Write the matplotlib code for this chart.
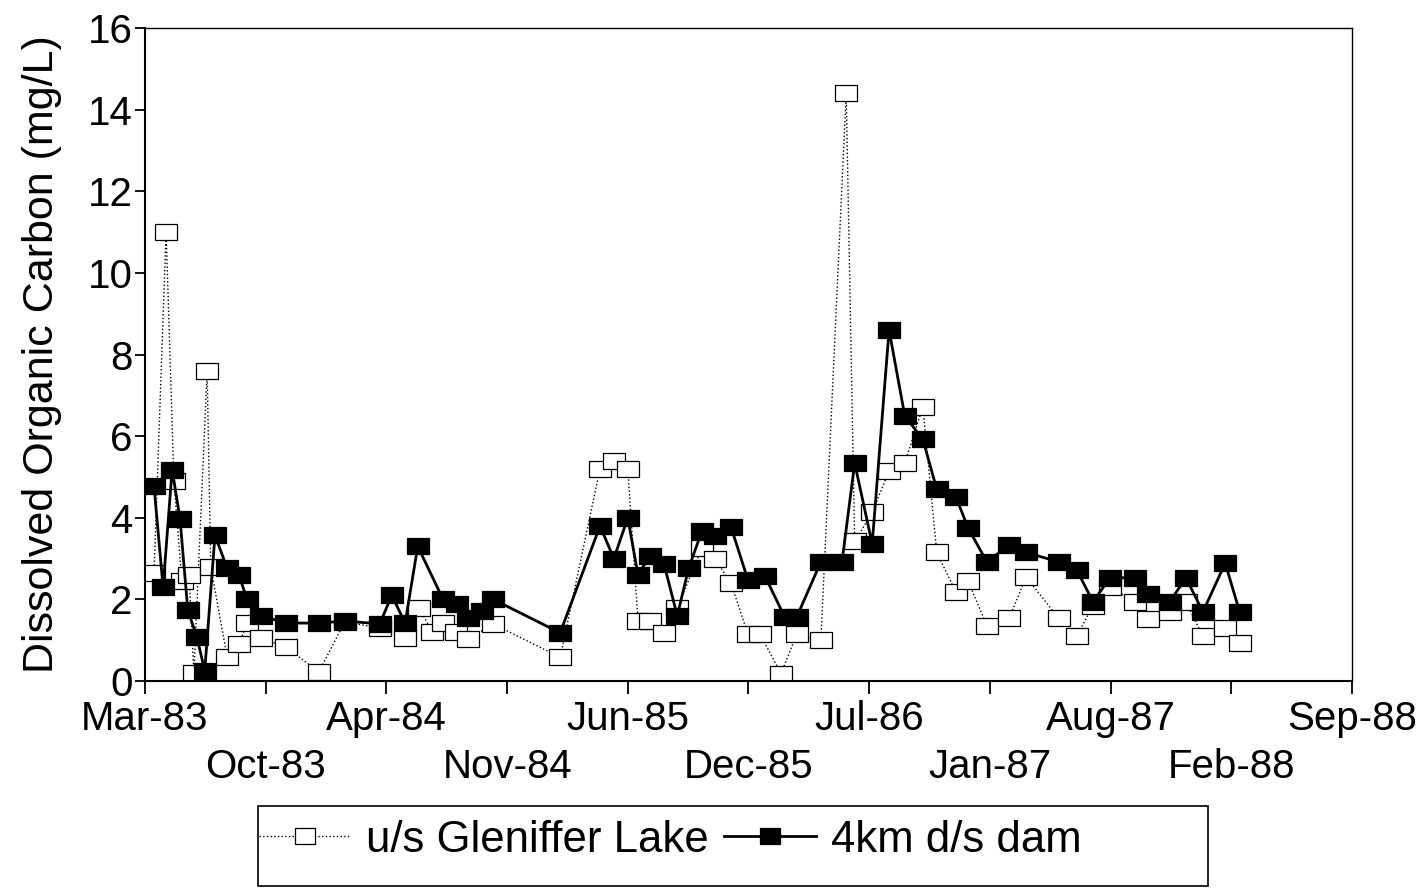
import numpy as np
import pandas as pd
import matplotlib
matplotlib.use("Agg")
import matplotlib.pyplot as plt
from matplotlib.patches import Rectangle

plt.rcParams['font.family'] = ['Liberation Sans', 'DejaVu Sans']

# Dissolved organic carbon (mg/L), Red Deer River
upstream_dates = [
    '1983-04-09', '1983-04-29', '1983-05-12', '1983-05-25', '1983-06-06', '1983-06-14',
    '1983-07-06', '1983-07-12', '1983-08-08', '1983-08-28', '1983-09-10', '1983-10-03',
    '1983-11-14', '1984-01-07', '1984-02-19', '1984-04-17', '1984-05-29', '1984-06-21',
    '1984-07-13', '1984-07-31', '1984-08-21', '1984-09-10', '1984-10-22', '1985-02-10',
    '1985-04-17', '1985-05-10', '1985-06-02', '1985-06-19', '1985-07-09', '1985-08-01',
    '1985-08-23', '1985-10-03', '1985-10-24', '1985-11-20', '1985-12-18', '1986-01-07',
    '1986-02-11', '1986-03-09', '1986-04-18', '1986-05-30', '1986-06-13', '1986-07-12',
    '1986-08-09', '1986-09-04', '1986-10-04', '1986-10-27', '1986-11-28', '1986-12-18',
    '1987-01-18', '1987-02-24', '1987-03-24', '1987-05-17', '1987-06-16', '1987-07-13',
    '1987-08-10', '1987-09-20', '1987-10-12', '1987-11-17', '1987-12-14', '1988-01-11',
    '1988-02-17', '1988-03-12',
]
upstream_doc = [
    2.65, 11.0, 4.9, 2.45, 2.6, 0.2,
    7.6, 2.8, 0.6, 0.9, 1.42, 1.05,
    0.83, 0.22, 1.45, 1.3, 1.05, 1.8,
    1.2, 1.42, 1.2, 1.02, 1.4, 0.58,
    5.2, 5.38, 5.2, 1.48, 1.48, 1.18,
    1.79, 3.27, 3.0, 2.4, 1.15, 1.15,
    0.18, 1.15, 1.0, 14.4, 3.42, 4.13,
    5.15, 5.34, 6.72, 3.15, 2.17, 2.45,
    1.36, 1.54, 2.55, 1.54, 1.1, 1.85,
    2.3, 1.94, 1.52, 1.7, 1.94, 1.1,
    1.3, 0.93,
]

downstream_dates = [
    '1983-04-09', '1983-04-24', '1983-05-09', '1983-05-22', '1983-06-04', '1983-06-19',
    '1983-07-02', '1983-07-19', '1983-08-08', '1983-08-28', '1983-09-10', '1983-10-03',
    '1983-11-14', '1984-01-07', '1984-02-19', '1984-04-17', '1984-05-07', '1984-05-29',
    '1984-06-19', '1984-07-31', '1984-08-23', '1984-09-10', '1984-10-03', '1984-10-22',
    '1985-02-10', '1985-04-17', '1985-05-10', '1985-06-02', '1985-06-19', '1985-07-09',
    '1985-08-01', '1985-08-23', '1985-09-11', '1985-10-03', '1985-10-24', '1985-11-20',
    '1985-12-18', '1986-01-15', '1986-02-17', '1986-03-09', '1986-04-18', '1986-05-23',
    '1986-06-13', '1986-07-12', '1986-08-09', '1986-09-04', '1986-10-04', '1986-10-27',
    '1986-11-28', '1986-12-18', '1987-01-18', '1987-02-24', '1987-03-24', '1987-05-17',
    '1987-06-16', '1987-07-13', '1987-08-10', '1987-09-20', '1987-10-12', '1987-11-17',
    '1987-12-14', '1988-01-11', '1988-02-17', '1988-03-12',
]
downstream_doc = [
    4.77, 2.3, 5.18, 3.98, 1.73, 1.08,
    0.25, 3.57, 2.77, 2.59, 2.0, 1.6,
    1.42, 1.42, 1.47, 1.4, 2.1, 1.42,
    3.3, 2.0, 1.88, 1.55, 1.72, 2.0,
    1.18, 3.8, 3.0, 4.0, 2.6, 3.07,
    2.87, 1.6, 2.77, 3.68, 3.56, 3.78,
    2.48, 2.58, 1.57, 1.57, 2.92, 2.92,
    5.34, 3.36, 8.6, 6.5, 5.92, 4.7,
    4.5, 3.75, 2.92, 3.33, 3.15, 2.92,
    2.72, 1.94, 2.53, 2.53, 2.13, 1.94,
    2.53, 1.69, 2.89, 1.69,
]

series_labels = ['u/s Gleniffer Lake', '4km d/s dam']

# date axis: 200-day major unit starting late March 1983
axis_start = pd.Timestamp('1983-03-25')
tick_step_days = 200
n_ticks = 11

up_x = pd.to_datetime(upstream_dates)
down_x = pd.to_datetime(downstream_dates)

# wide rectangular box marker
box = [(-1.3, -1), (1.3, -1), (1.3, 1), (-1.3, 1), (-1.3, -1)]

fig = plt.figure(figsize=(14.27, 8.90), dpi=100)
ax = fig.add_axes([0.1016, 0.2348, 0.8458, 0.7337])

ax.plot(up_x, upstream_doc, linestyle=':', color='black', linewidth=1.0,
        marker=box, markersize=15.8, markerfacecolor='white',
        markeredgecolor='black', markeredgewidth=0.9, label=series_labels[0])
ax.plot(down_x, downstream_doc, linestyle='-', color='black', linewidth=2.0,
        marker=box, markersize=15.8, markerfacecolor='black',
        markeredgecolor='black', markeredgewidth=0.9, label=series_labels[1])

ticks = [axis_start + pd.Timedelta(days=tick_step_days * i) for i in range(n_ticks)]
ax.set_xlim(ticks[0], ticks[-1])
ax.set_xticks(ticks)
ax.set_xticklabels([t.strftime('%b-%y') for t in ticks])
ax.set_ylim(0, 16)
ax.set_yticks(np.arange(0, 17, 2))

ax.tick_params(axis='x', direction='out', length=9, width=1.3, labelsize=29, pad=5)
ax.tick_params(axis='y', direction='out', length=7, width=1.3, labelsize=29, pad=2)
# stagger the date labels onto two rows
for i, tick in enumerate(ax.xaxis.get_major_ticks()):
    if i % 2 == 1:
        tick.set_pad(39)

for side in ['left', 'bottom']:
    ax.spines[side].set_linewidth(1.5)
for side in ['top', 'right']:
    ax.spines[side].set_linewidth(1.0)

ax.set_ylabel('Dissolved Organic Carbon (mg/L)', fontsize=31, labelpad=18)

# legend in a wide framed box under the chart
fig.add_artist(Rectangle((258 / 1427, 1 - 886 / 890), 950 / 1427, 80 / 890,
                         transform=fig.transFigure, fill=False,
                         edgecolor='black', linewidth=1.2))
handles, labels = ax.get_legend_handles_labels()
leg = fig.legend(handles, labels, loc='center left',
                 bbox_to_anchor=(259 / 1427, 1 - 840 / 890), ncol=2,
                 frameon=False, fontsize=31.5, handlelength=2.1, handletextpad=0.34,
                 columnspacing=0.35, markerscale=0.9, borderpad=0, borderaxespad=0)

fig.savefig('out.png', dpi=100)
